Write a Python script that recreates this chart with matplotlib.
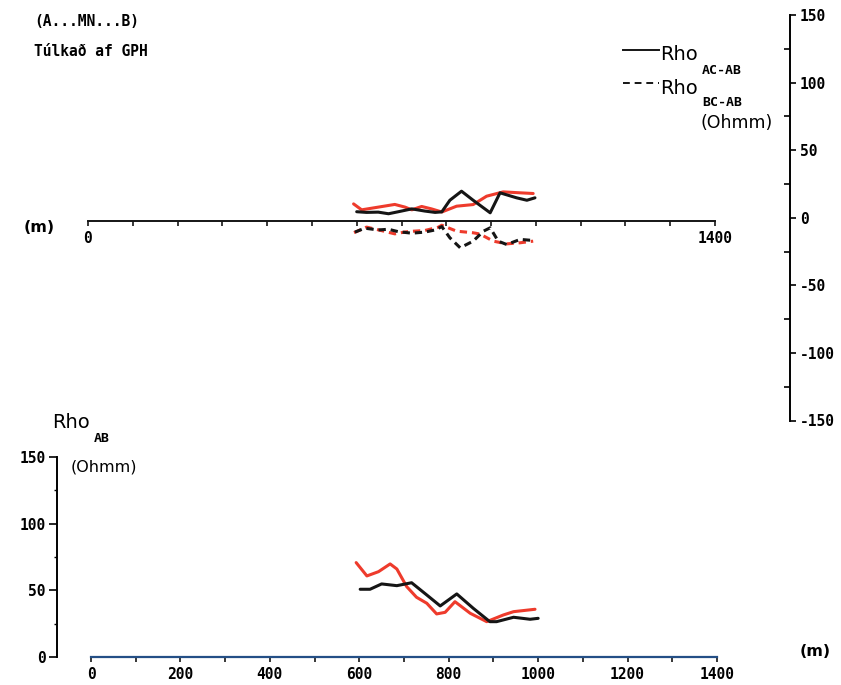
import matplotlib
matplotlib.use("Agg")
import matplotlib.pyplot as plt
from matplotlib.ticker import MultipleLocator, FixedLocator
from matplotlib.lines import Line2D

plt.rcParams['axes.unicode_minus'] = False

# ---------------- data ----------------
# Upper panel: Rho_AC-AB (solid) and Rho_BC-AB (dashed), Ohmm, vs distance (m)
ac_black_x = [600, 622, 648, 671, 693, 723, 752, 775, 790, 808, 834, 860, 898, 920, 957, 980, 998]
ac_black_y = [6.5, 6.0, 6.2, 5.0, 6.5, 8.6, 7.0, 6.0, 6.4, 15.0, 21.7, 15.0, 5.7, 20.5, 16.8, 15.0, 16.8]

ac_red_x = [593, 611, 648, 685, 708, 723, 745, 767, 790, 823, 860, 890, 927, 965, 994]
ac_red_y = [12.3, 7.9, 9.9, 11.9, 9.9, 7.9, 10.4, 8.6, 6.3, 10.6, 11.8, 18.0, 21.2, 20.5, 20.0]

bc_black_x = [596, 618, 648, 671, 693, 723, 752, 775, 790, 808, 831, 860, 883, 898, 916, 935, 965, 994]
bc_black_y = [-8.6, -5.7, -7.0, -6.5, -8.3, -9.4, -8.6, -7.0, -4.5, -12.8, -20.2, -15.3, -7.9, -5.4, -15.3, -17.8, -14.0, -14.8]

bc_red_x = [594, 622, 648, 685, 708, 723, 752, 782, 790, 823, 860, 875, 905, 935, 965, 994]
bc_red_y = [-9.0, -4.9, -6.9, -9.9, -8.5, -8.0, -7.4, -5.0, -3.5, -7.9, -9.1, -10.0, -15.3, -17.3, -16.5, -15.3]

# Lower panel: Rho_AB (Ohmm) vs distance (m)
ab_black_x = [602, 624, 650, 684, 717, 751, 781, 818, 855, 892, 907, 945, 982, 1000]
ab_black_y = [50.8, 50.8, 54.8, 53.5, 55.7, 46.5, 38.3, 47.3, 36.5, 26.5, 26.5, 29.8, 28.3, 29.0]

ab_red_x = [593, 617, 643, 669, 684, 706, 728, 751, 773, 792, 814, 848, 885, 922, 945, 993]
ab_red_y = [70.8, 60.8, 64.0, 69.8, 66.0, 52.8, 44.8, 40.3, 32.3, 33.5, 41.5, 32.8, 26.5, 31.5, 34.0, 35.8]

top_xticks = [0, 1400]
bot_xticks = [0, 200, 400, 600, 800, 1000, 1200, 1400]

# ---------------- styles ----------------
RED = '#ee3b2c'
BLK = '#151515'
LW = 2.2
DASH = (2.4, 1.6)
MONO = 'DejaVu Sans Mono'
SANS = 'DejaVu Sans'
TICKFS = 10.5

W, H = 841, 685
fig = plt.figure(figsize=(8.41, 6.85), dpi=100)


def fx(x):
    return x / W


def fy(y):
    return 1 - y / H


def ftext(x, y, s, **kw):
    kw.setdefault('va', 'center')
    kw.setdefault('ha', 'left')
    fig.text(fx(x), fy(y), s, **kw)


def style_labels(labels):
    for lab in labels:
        lab.set_fontfamily(MONO)
        lab.set_fontweight('bold')
        lab.set_fontsize(TICKFS)


# ---------------- upper panel ----------------
ax_t = fig.add_axes([fx(88), fy(423), (715 - 88) / W, (423 - 18) / H])
ax_t.set_xlim(0, 1400)
ax_t.set_ylim(-150, 150)
ax_t.patch.set_alpha(0)
ax_t.plot(ac_red_x, ac_red_y, color=RED, lw=LW, solid_capstyle='round', solid_joinstyle='round')
ax_t.plot(ac_black_x, ac_black_y, color=BLK, lw=LW, solid_capstyle='round', solid_joinstyle='round')
ax_t.plot(bc_red_x, bc_red_y, color=RED, lw=LW, dashes=DASH)
ax_t.plot(bc_black_x, bc_black_y, color=BLK, lw=LW, dashes=DASH)
for s in ['top', 'left', 'right']:
    ax_t.spines[s].set_visible(False)
ax_t.spines['bottom'].set_position(('data', 0))
ax_t.spines['bottom'].set_linewidth(1.4)
ax_t.spines['bottom'].set_color(BLK)
ax_t.yaxis.set_visible(False)
ax_t.xaxis.set_major_locator(FixedLocator(top_xticks))
ax_t.xaxis.set_minor_locator(MultipleLocator(100))
ax_t.tick_params(axis='x', which='both', direction='out', length=3.5, width=1.2, color=BLK, pad=4)
style_labels(ax_t.get_xticklabels())

# right-hand scale for upper panel
ax_r = fig.add_axes([fx(789.5), fy(420.5), 0.0006, (420.5 - 15) / H])
ax_r.set_ylim(-150, 150)
ax_r.patch.set_alpha(0)
for s in ['top', 'left', 'bottom']:
    ax_r.spines[s].set_visible(False)
ax_r.spines['right'].set_linewidth(1.4)
ax_r.xaxis.set_visible(False)
ax_r.yaxis.set_ticks_position('right')
ax_r.yaxis.set_major_locator(MultipleLocator(50))
ax_r.yaxis.set_minor_locator(MultipleLocator(25))
ax_r.tick_params(axis='y', which='major', direction='out', length=4, width=1.2, pad=3)
ax_r.tick_params(axis='y', which='minor', direction='in', length=4, width=1.2)
style_labels(ax_r.get_yticklabels())

# ---------------- lower panel ----------------
ax_b = fig.add_axes([fx(91), fy(657), (717 - 91) / W, 200 / H])
ax_b.set_xlim(0, 1400)
ax_b.set_ylim(0, 150)
ax_b.patch.set_alpha(0)
ax_b.plot(ab_red_x, ab_red_y, color=RED, lw=LW, solid_capstyle='round', solid_joinstyle='round')
ax_b.plot(ab_black_x, ab_black_y, color=BLK, lw=LW, solid_capstyle='round', solid_joinstyle='round')
ax_b.spines['top'].set_visible(False)
ax_b.spines['right'].set_visible(False)
ax_b.spines['left'].set_position(('outward', 34 * 0.72))
ax_b.spines['left'].set_linewidth(1.4)
ax_b.spines['bottom'].set_linewidth(1.6)
ax_b.spines['bottom'].set_color('#244f86')
ax_b.xaxis.set_major_locator(FixedLocator(bot_xticks))
ax_b.xaxis.set_minor_locator(MultipleLocator(100))
ax_b.yaxis.set_major_locator(MultipleLocator(50))
ax_b.yaxis.set_minor_locator(MultipleLocator(25))
ax_b.tick_params(axis='x', which='both', direction='out', length=3.5, width=1.2, color=BLK, pad=4)
ax_b.tick_params(axis='y', which='major', direction='out', length=5.5, width=1.2, pad=2.5)
ax_b.tick_params(axis='y', which='minor', direction='out', length=2.5, width=1.0)
style_labels(ax_b.get_xticklabels() + ax_b.get_yticklabels())

# ---------------- texts ----------------
ftext(34, 21, '(A...MN...B)', family=MONO, weight='bold', fontsize=10.5)
ftext(34, 51, 'Túlkað af GPH', family=MONO, weight='bold', fontsize=10.5)
ftext(24, 228, '(m)', family=SANS, weight='bold', fontsize=11.5)
ftext(800, 652, '(m)', family=SANS, weight='bold', fontsize=11.5)

# legend of upper panel
fig.add_artist(Line2D([fx(623), fx(659)], [fy(49.5), fy(49.5)], color=BLK, lw=1.4))
fig.add_artist(Line2D([fx(623), fx(659)], [fy(83), fy(83)], color=BLK, lw=1.4, dashes=(3.5, 2.5)))
ftext(660, 54, 'Rho', family=SANS, fontsize=14)
ftext(702, 70, 'AC-AB', family=MONO, weight='bold', fontsize=9.5)
ftext(660, 88, 'Rho', family=SANS, fontsize=14)
ftext(702, 103, 'BC-AB', family=MONO, weight='bold', fontsize=9.5)
ftext(700, 123, '(Ohmm)', family=SANS, fontsize=12.5)

# label of lower panel
ftext(52, 422, 'Rho', family=SANS, fontsize=14)
ftext(94, 438, 'AB', family=MONO, weight='bold', fontsize=9.5)
ftext(71, 467, '(Ohmm)', family=SANS, fontsize=11.5)

fig.savefig('out.png', dpi=100)
